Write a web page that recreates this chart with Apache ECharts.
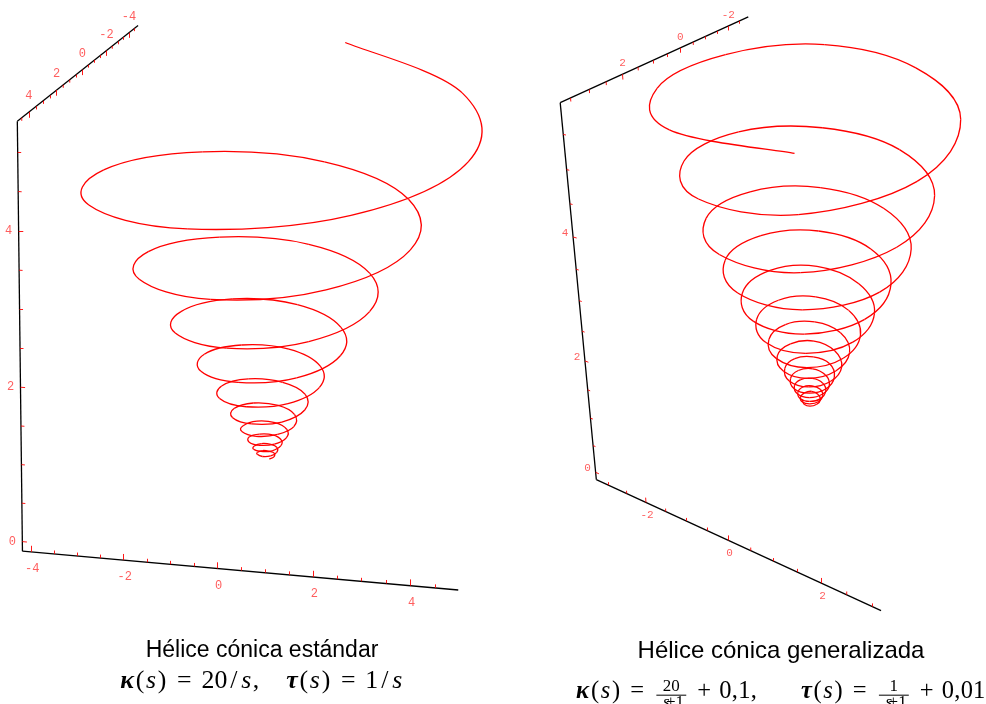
<!DOCTYPE html>
<html>
<head>
<meta charset="utf-8">
<script src="https://cdn.jsdelivr.net/npm/echarts@6/dist/echarts.min.js"></script>
<style>
  html, body { margin: 0; padding: 0; background: #fff; }
  #chart { width: 986px; height: 704px; }
</style>
</head>
<body>
<div id="chart"></div>
<script>
// ---------------- data ----------------
// Standard conic helix: radius and height sampled every 45 degrees, starting at -80 deg.
const leftRadius = [
  5.06,4.86,4.67,4.48,4.30,4.13,3.97,3.81,3.66,3.51,
  3.37,3.24,3.11,2.99,2.87,2.75,2.64,2.54,2.44,2.34,
  2.25,2.16,2.07,1.99,1.91,1.83,1.76,1.69,1.62,1.56,
  1.50,1.44,1.38,1.32,1.27,1.22,1.17,1.12,1.08,1.04,
  0.99,0.95,0.92,0.88,0.85,0.81,0.78,0.75,0.72,0.69,
  0.66,0.64,0.61,0.59,0.56,0.54,0.52,0.50,0.48,0.46,
  0.44,0.42,0.41,0.39,0.38,0.36,0.35,0.33,0.32,0.31,
  0.29,0.28,0.27,0.26,0.25,0.24,0.23,0.22,0.21,0.20,
  0.19,0.19,0.18,0.17
];
const leftHeight = [
  5.25,4.91,4.53,4.24,4.05,3.95,3.91,3.84,3.71,3.51,
  3.28,3.08,2.94,2.88,2.84,2.78,2.69,2.55,2.39,2.24,
  2.14,2.09,2.06,2.03,1.96,1.85,1.74,1.63,1.56,1.52,
  1.51,1.48,1.43,1.35,1.27,1.19,1.14,1.11,1.10,1.08,
  1.04,0.99,0.93,0.87,0.84,0.82,0.81,0.80,0.77,0.73,
  0.68,0.65,0.62,0.61,0.59,0.59,0.57,0.54,0.51,0.48,
  0.46,0.45,0.45,0.44,0.43,0.41,0.39,0.36,0.35,0.34,
  0.33,0.33,0.32,0.31,0.29,0.27,0.26,0.26,0.25,0.25,
  0.24,0.24,0.22,0.21
];
// Generalized conic helix: radius and height every 45 degrees, starting at 69 deg.
const rightRadius = [
  3.42,3.32,3.23,3.14,3.05,2.99,2.94,2.88,2.83,2.78,
  2.73,2.68,2.63,2.58,2.52,2.46,2.41,2.36,2.30,2.26,
  2.21,2.15,2.10,2.06,2.00,1.95,1.91,1.86,1.81,1.77,
  1.71,1.67,1.63,1.58,1.54,1.51,1.46,1.42,1.38,1.34,
  1.30,1.26,1.23,1.20,1.16,1.12,1.09,1.06,1.03,0.99,
  0.96,0.94,0.90,0.88,0.86,0.83,0.81,0.79,0.77,0.75,
  0.74,0.71,0.69,0.66,0.65,0.63,0.60,0.59,0.57,0.56,
  0.53,0.52,0.51,0.49,0.47,0.46,0.45,0.43,0.42,0.41,
  0.40,0.39,0.38,0.37,0.36,0.35,0.34,0.33,0.32,0.31,
  0.30,0.29,0.28,0.28,0.27,0.26,0.25,0.25,0.24,0.23,
  0.23,0.22,0.22,0.21,0.21,0.20,0.20
];
const rightHeight = [
  5.70,5.64,5.60,5.64,5.65,5.47,5.20,4.92,4.70,
  4.55,4.45,4.38,4.27,4.15,4.00,3.85,3.70,
  3.60,3.50,3.40,3.30,3.20,3.11,3.02,2.94,
  2.86,2.78,2.70,2.63,2.56,2.49,2.43,2.36,
  2.27,2.21,2.16,2.10,2.01,1.96,1.91,1.86,
  1.79,1.74,1.70,1.65,1.60,1.55,1.51,1.46,
  1.41,1.37,1.33,1.29,1.25,1.21,1.18,1.14,
  1.10,1.07,1.03,1.00,0.96,0.93,0.91,0.89,
  0.86,0.84,0.81,0.78,0.76,0.73,0.71,0.69,
  0.66,0.65,0.63,0.61,0.59,0.57,0.56,0.54,
  0.52,0.51,0.49,0.47,0.46,0.45,0.43,0.42,
  0.40,0.39,0.38,0.37,0.36,0.35,0.34,0.33,
  0.31,0.30,0.29,0.29,0.28,0.27,0.27,0.26,0.25,0.25
];

// Axis tick values (labelled ones)
const leftTickLabelsX = [-4, -2, 0, 2, 4];
const leftTickLabelsY = [-4, -2, 0, 2, 4];
const leftTickLabelsZ = [0, 2, 4];
const rightTickLabelsX = [-2, 0, 2];
const rightTickLabelsY = [-2, 0, 2];
const rightTickLabelsZ = [0, 2, 4];

// ---------------- views (perspective camera of each panel) ----------------
// screen = (hor . [1,x,y,z], ver . [1,x,y,z]) / (den . [1,x,y,z])
const leftView = {
  den: [1, -0.00383, -0.017, -0.00285],
  hor: [266.4, 42.72, -13.86, -0.92],
  ver: [471.6, 1.705, 8.68, -73.24],
  box: { x: [-4.19, 4.97], y: [-4.84, 4.8], z: [-0.124, 5.39] },
  ticks: { x: [-4, 4.5], y: [-4.5, 4.5], z: [0, 5] },
  tickLen: { x: [0.08, 0.045], y: [0.075, 0.04], z: [0.1, 0.075] },
  labelOffset: { x: [1, 17], y: [0, -16], z: [-10, 0] },
  labelSize: 12
};
const rightView = {
  den: [1, -0.0247, -0.0445, -0.0232],
  hor: [813.6, 18.55, -55.03, -18.45],
  ver: [408.7, 3.45, 9.165, -59.28],
  box: { x: [-3.32, 3.16], y: [-2.95, 3.77], z: [-0.14, 5.94] },
  ticks: { x: [-3, 3], y: [-2.5, 3.5], z: [0, 5.5] },
  tickLen: { x: [0.09, 0.055], y: [0.08, 0.05], z: [0.09, 0.065] },
  labelOffset: { x: [1, 13], y: [0, -11], z: [-8, -4] },
  labelSize: 11
};

function project(v, x, y, z) {
  const w = v.den[0] + v.den[1] * x + v.den[2] * y + v.den[3] * z;
  return [
    (v.hor[0] + v.hor[1] * x + v.hor[2] * y + v.hor[3] * z) / w,
    (v.ver[0] + v.ver[1] * x + v.ver[2] * y + v.ver[3] * z) / w
  ];
}

// Helix samples (cylindrical r, theta, z) -> projected points, joined by
// cubic Bezier arcs (Catmull-Rom tangents sized for 45 degree circle arcs).
function helixSeries(v, radius, height, theta0, center) {
  const pts = radius.map((r, i) => {
    const a = (theta0 + 45 * i) * Math.PI / 180;
    return project(v, center[0] + r * Math.cos(a), center[1] + r * Math.sin(a), height[i]);
  });
  const n = pts.length;
  const k = 0.1875;
  return {
    type: 'custom', coordinateSystem: 'cartesian2d', data: pts, silent: true, z: 5,
    clip: false, encode: { x: 0, y: 1 },
    renderItem: function (params, api) {
      const i = params.dataIndex;
      if (i >= n - 1) return null;
      const c = j => api.coord(pts[Math.max(0, Math.min(n - 1, j))]);
      const p0 = c(i - 1), p1 = c(i), p2 = c(i + 1), p3 = c(i + 2);
      return {
        type: 'bezierCurve',
        shape: {
          x1: p1[0], y1: p1[1], x2: p2[0], y2: p2[1],
          cpx1: p1[0] + (p2[0] - p0[0]) * k, cpy1: p1[1] + (p2[1] - p0[1]) * k,
          cpx2: p2[0] - (p3[0] - p1[0]) * k, cpy2: p2[1] - (p3[1] - p1[1]) * k
        },
        style: { stroke: '#ff0000', fill: 'none', lineWidth: 1.3 }
      };
    }
  };
}

function axisSeries(v, labelsX, labelsY, labelsZ) {
  const b = v.box;
  const X0 = b.x[0], Y1 = b.y[1], Z0 = b.z[0], Z1 = b.z[1];
  const axes = [
    [[b.x[0], Y1, Z0], [b.x[1], Y1, Z0]],   // x axis, bottom front edge
    [[X0, Y1, Z0], [X0, Y1, Z1]],           // z axis, vertical edge
    [[X0, Y1, Z1], [X0, b.y[0], Z1]]        // y axis, top edge
  ];
  const axisLines = axes.map(s => ({ coords: s.map(p => project(v, p[0], p[1], p[2])) }));

  const ticks = [];
  const labels = [];
  const addTicks = (dim, labelled) => {
    const [lo, hi] = v.ticks[dim];
    for (let t = lo; t <= hi + 1e-9; t += 0.5) {
      const major = labelled.indexOf(t) >= 0;
      const len = v.tickLen[dim][major ? 0 : 1];
      let p, q;
      if (dim === 'x') { p = [t, Y1, Z0]; q = [t, Y1, Z0 + len]; }
      if (dim === 'z') { p = [X0, Y1, t]; q = [X0 + len, Y1, t]; }
      if (dim === 'y') { p = [X0, t, Z1]; q = [X0, t, Z1 - len]; }
      ticks.push({ coords: [project(v, p[0], p[1], p[2]), project(v, q[0], q[1], q[2])] });
      if (major) {
        labels.push({
          value: project(v, p[0], p[1], p[2]),
          name: String(t),
          label: { offset: v.labelOffset[dim] }
        });
      }
    }
  };
  addTicks('x', labelsX);
  addTicks('y', labelsY);
  addTicks('z', labelsZ);

  return [
    {
      type: 'lines', coordinateSystem: 'cartesian2d', silent: true, z: 3,
      data: axisLines, lineStyle: { color: '#000', width: 1.3, opacity: 1 }
    },
    {
      type: 'lines', coordinateSystem: 'cartesian2d', silent: true, z: 4,
      data: ticks, lineStyle: { color: '#ff0000', width: 1, opacity: 0.9 }
    },
    {
      type: 'scatter', symbolSize: 0, silent: true, z: 6, data: labels,
      label: {
        show: true, position: 'inside', formatter: '{b}',
        color: '#ff3434', fontFamily: 'Liberation Mono', fontSize: v.labelSize
      }
    }
  ];
}

// ---------------- captions ----------------
const SERIF = 'Liberation Serif';
const textEl = (x, y, text, font, extra) => ({
  type: 'text', x: x, y: y, silent: true,
  style: Object.assign({
    text: text, fill: '#000', font: font,
    align: 'center', verticalAlign: 'middle',
    textAlign: 'center', textVerticalAlign: 'middle'
  }, extra || {})
});
const fontOf = (kind, size) =>
  kind === 'k' ? 'italic bold ' + size + 'px "' + SERIF + '"' :
  kind === 'i' ? 'italic ' + size + 'px "' + SERIF + '"' :
  size + 'px "' + SERIF + '"';

// tokens: [text, kind, widthInEm] or ['frac', numerator, widthInEm]
function mathLine(x0, y, size, tokens) {
  const out = [];
  let x = x0;
  tokens.forEach(tk => {
    const w = tk[2] * size;
    const cx = x + w / 2;
    if (tk[0] === 'frac') {
      const fs = Math.round(size * 0.68);
      out.push(textEl(cx, y - size * 0.22, tk[1], fontOf('r', fs)));
      out.push({ type: 'line', silent: true,
        shape: { x1: x + 0.12 * size, y1: y + size * 0.13, x2: x + w - 0.12 * size, y2: y + size * 0.13 },
        style: { stroke: '#000', lineWidth: 1 } });
      out.push(textEl(cx - fs * 0.3, y + size * 0.45, 's', fontOf('i', fs)));
      out.push(textEl(cx + fs * 0.22, y + size * 0.45, '+1', fontOf('r', fs)));
    } else if (tk[0].trim()) {
      out.push(textEl(cx, y, tk[0], fontOf(tk[1], size)));
    }
    x += w;
  });
  return out;
}
const kappaPart = [['κ', 'k', 0.62], ['(', 'r', 0.389], ['s', 'i', 0.469], [')', 'r', 0.389], ['=', 'r', 1.334]];
const tauPart = [['τ', 'k', 0.52], ['(', 'r', 0.389], ['s', 'i', 0.469], [')', 'r', 0.389], ['=', 'r', 1.334]];
const leftFormula = [].concat(kappaPart,
  [['2', 'r', 0.5], ['0', 'r', 0.5], ['/', 'r', 0.5], ['s', 'i', 0.469], [',', 'r', 0.278], [' ', 'r', 1.0]],
  tauPart, [['1', 'r', 0.5], ['/', 'r', 0.5], ['s', 'i', 0.469]]);
const rightFormulaA = [].concat(kappaPart,
  [['frac', '20', 1.46], ['+', 'r', 1.222], ['0', 'r', 0.5], [',', 'r', 0.278], ['1', 'r', 0.5], [',', 'r', 0.278]]);
const rightFormulaB = [].concat(tauPart,
  [['frac', '1', 1.46], ['+', 'r', 1.222], ['0', 'r', 0.5], [',', 'r', 0.278], ['0', 'r', 0.5], ['1', 'r', 0.5]]);

const chart = echarts.init(document.getElementById('chart'), null, { renderer: 'canvas' });
chart.setOption({
  backgroundColor: '#fff',
  animation: false,
  grid: { left: 0, right: 0, top: 0, bottom: 0 },
  xAxis: { type: 'value', min: 0, max: 986, show: false },
  yAxis: { type: 'value', min: 0, max: 704, inverse: true, show: false },
  series: [
    ...axisSeries(leftView, leftTickLabelsX, leftTickLabelsY, leftTickLabelsZ),
    ...axisSeries(rightView, rightTickLabelsX, rightTickLabelsY, rightTickLabelsZ),
    helixSeries(leftView, leftRadius, leftHeight, -80, [0, 0]),
    helixSeries(rightView, rightRadius, rightHeight, 69, [0, 0.15])
  ],
  graphic: [].concat(
    [textEl(262, 651, 'Hélice cónica estándar', '23px "Liberation Sans"')],
    mathLine(119, 681, 25.8, leftFormula),
    [textEl(781, 651, 'Hélice cónica generalizada', '24px "Liberation Sans"')],
    mathLine(575, 692, 24.5, rightFormulaA),
    mathLine(800, 692, 24.5, rightFormulaB)
  )
});
</script>
</body>
</html>
